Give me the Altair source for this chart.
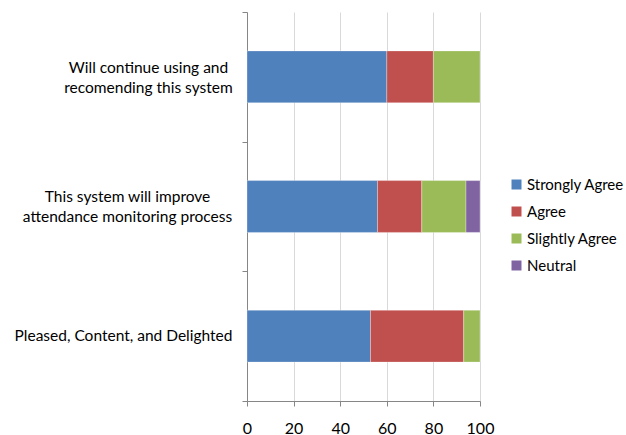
import altair as alt
import pandas as pd

# Survey statements (top to bottom), "|" marks a line break in the axis label
statements = [
    "Will continue using and|recomending this system",
    "This system will improve|attendance monitoring process",
    "Pleased, Content, and Delighted",
]
responses = ["Strongly Agree", "Agree", "Slightly Agree", "Neutral"]
colors = ["#4F81BD", "#C0504D", "#9BBB59", "#8064A2"]

# Percentage of respondents per response, one list per statement
strongly_agree = [60, 56, 53]
agree = [20, 19, 40]
slightly_agree = [20, 19, 7]
neutral = [0, 6, 0]

rows = []
for i, s in enumerate(statements):
    for j, (r, vals) in enumerate(zip(responses, [strongly_agree, agree, slightly_agree, neutral])):
        if vals[i] > 0:
            rows.append({"statement": s, "response": r, "pct": vals[i], "order": j})
df = pd.DataFrame(rows)

FONT = "Lato"

# horizontal distance of each centred label block from the axis
label_pad = [94, 115, 119]
# vertical nudge: two-line labels are lifted so both lines sit around the bar
label_off = [-9, -10, -1]


def per_label(values):
    return {
        "condition": [
            {"test": f"datum.value == '{statements[k]}'", "value": values[k]}
            for k in range(len(statements) - 1)
        ],
        "value": values[-1],
    }


chart = alt.Chart(df).mark_bar(
    height={"band": 0.40}, stroke="#ffffff", strokeWidth=0.6, strokeOpacity=0.5
).encode(
    x=alt.X(
        "pct:Q",
        stack="zero",
        scale=alt.Scale(domain=[0, 100], nice=False),
        axis=alt.Axis(
            values=[0, 20, 40, 60, 80, 100],
            title=None,
            grid=True,
            gridColor="#d9d9d9",
            domainColor="#868686",
            tickColor="#868686",
            tickSize=5,
            labelFont=FONT,
            labelFontSize=16,
            labelColor="#000000",
            labelPadding=14,
            labelFlush=False,
            labelOverlap=False,
        ),
    ),
    y=alt.Y(
        "statement:N",
        sort=statements,
        scale=alt.Scale(paddingInner=0, paddingOuter=0),
        axis=alt.Axis(
            title=None,
            tickBand="extent",
            grid=False,
            domainColor="#868686",
            tickColor="#868686",
            tickSize=5,
            labelFont=FONT,
            labelFontSize=15.5,
            labelColor="#000000",
            labelAlign="center",
            labelLineHeight=20,
            labelExpr="split(datum.label, '|')",
            labelPadding=per_label(label_pad),
            labelOffset=per_label(label_off),
            labelLimit=300,
        ),
    ),
    color=alt.Color(
        "response:N",
        sort=responses,
        scale=alt.Scale(domain=responses, range=colors),
        legend=alt.Legend(
            title=None,
            orient="none",
            legendX=262,
            legendY=165,
            symbolType="square",
            symbolSize=100,
            symbolStrokeWidth=0,
            labelFont=FONT,
            labelFontSize=15,
            labelColor="#000000",
            labelOffset=3,
            rowPadding=11,
        ),
    ),
    order=alt.Order("order:Q"),
).properties(
    width=233,
    height=389,
    autosize=alt.AutoSizeParams(type="none"),
    padding={"left": 247, "top": 12, "right": 146, "bottom": 34},
).configure_view(stroke=None)

chart.save("out.html", embed_options={"renderer": "svg", "actions": False})
